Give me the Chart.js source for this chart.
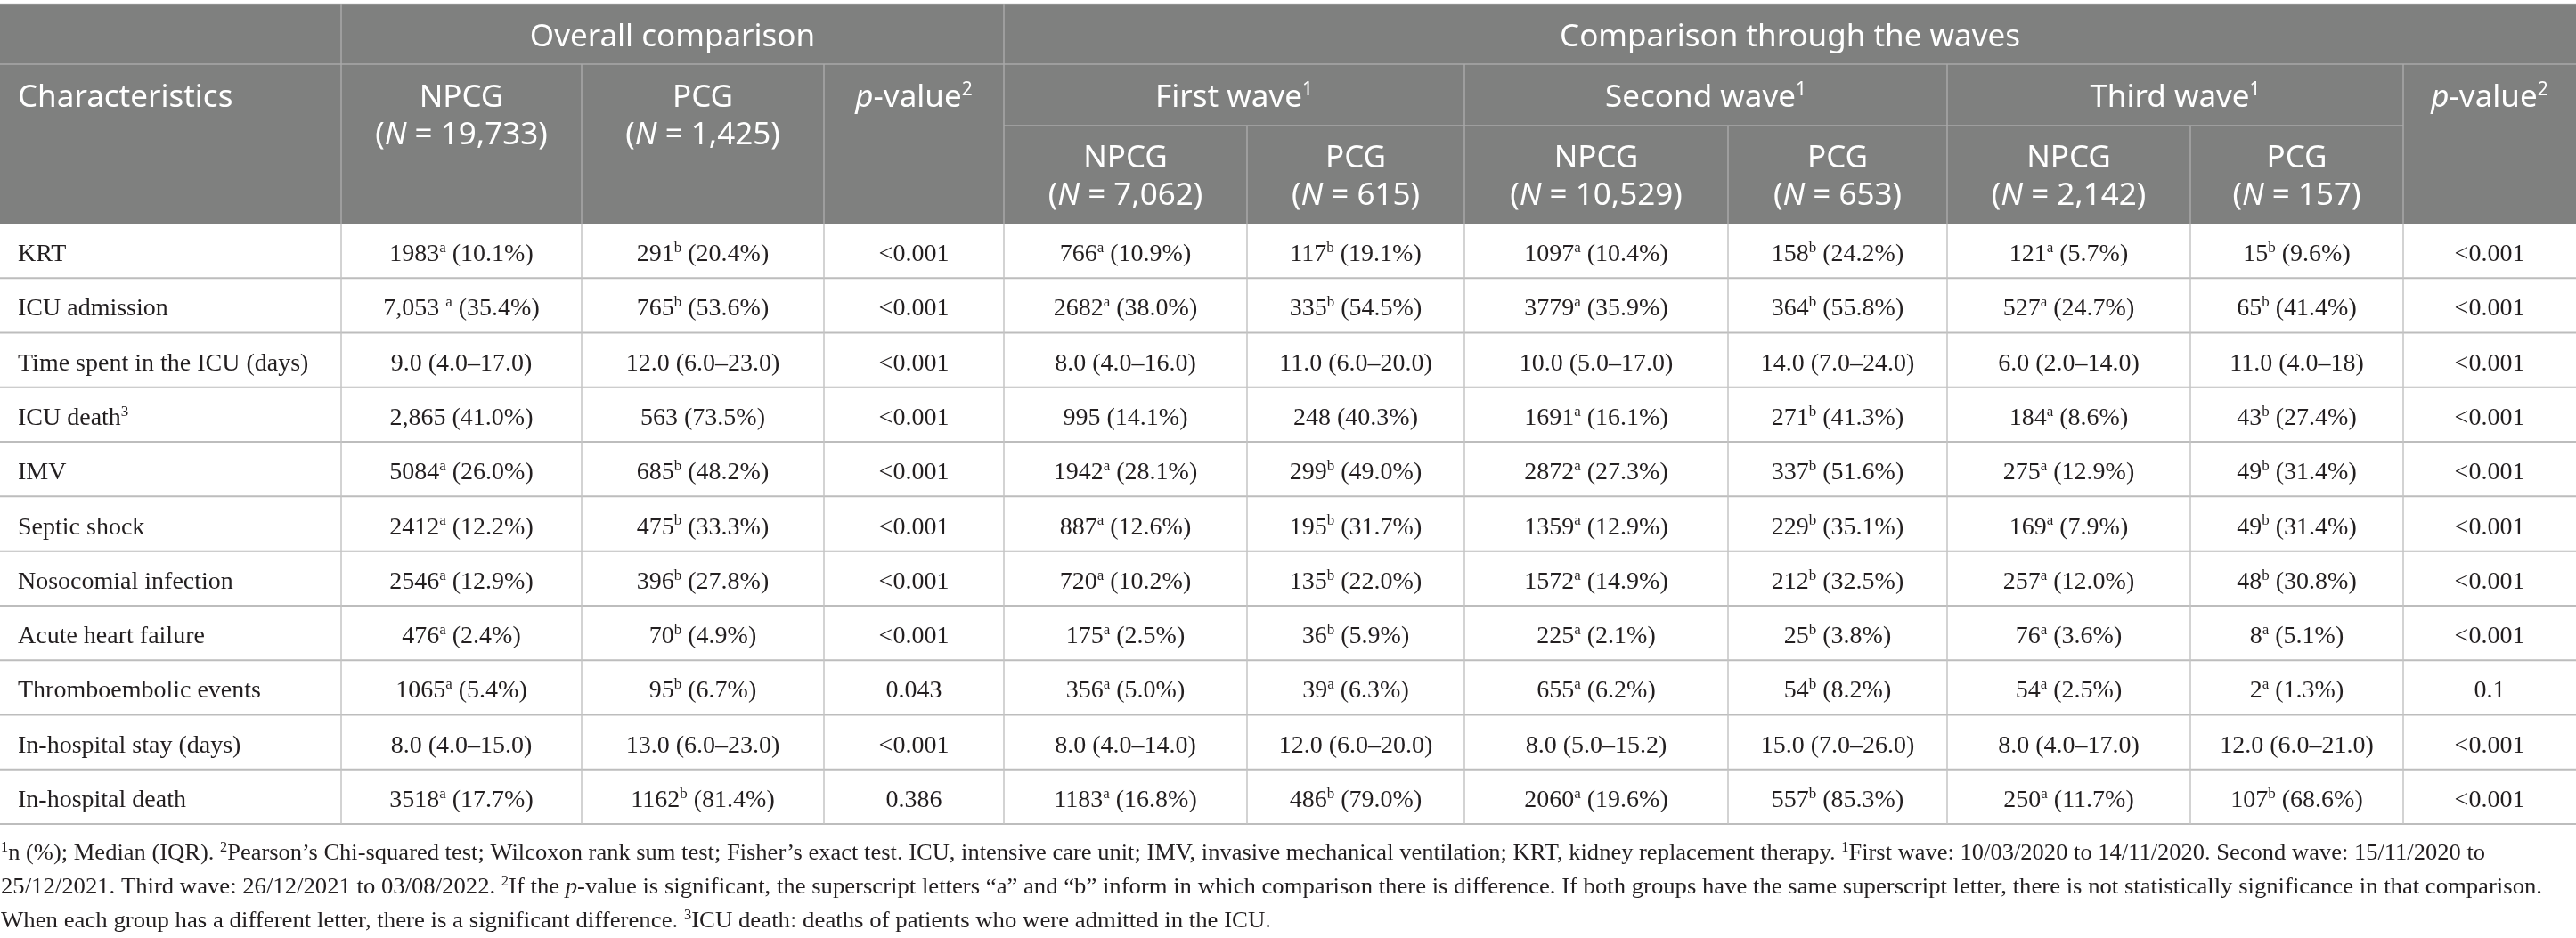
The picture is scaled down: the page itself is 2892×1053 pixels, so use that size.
<!DOCTYPE html>
<html>
<head>
    <meta charset="utf-8">
    <title>Outcomes by group and wave</title>
    <script src="https://cdn.jsdelivr.net/npm/chart.js@4"></script>
    <style>
        html, body {
            margin: 0;
            padding: 0;
            background: #ffffff;
            overflow: hidden;
        }
        #tableChart {
            display: block;
        }
    </style>
</head>
<body>
<canvas id="tableChart" width="2892" height="1053"></canvas>

<script>
    // ---- table content ----
    // markup: ^x = superscript character, _text_ = italic
    const characteristics = ['KRT', 'ICU admission', 'Time spent in the ICU (days)', 'ICU death^3', 'IMV', 'Septic shock',
        'Nosocomial infection', 'Acute heart failure', 'Thromboembolic events', 'In-hospital stay (days)', 'In-hospital death'];

    const overallNPCG = ['1983^a (10.1%)', '7,053 ^a (35.4%)', '9.0 (4.0–17.0)', '2,865 (41.0%)', '5084^a (26.0%)', '2412^a (12.2%)',
        '2546^a (12.9%)', '476^a (2.4%)', '1065^a (5.4%)', '8.0 (4.0–15.0)', '3518^a (17.7%)'];
    const overallPCG = ['291^b (20.4%)', '765^b (53.6%)', '12.0 (6.0–23.0)', '563 (73.5%)', '685^b (48.2%)', '475^b (33.3%)',
        '396^b (27.8%)', '70^b (4.9%)', '95^b (6.7%)', '13.0 (6.0–23.0)', '1162^b (81.4%)'];
    const overallP = ['<0.001', '<0.001', '<0.001', '<0.001', '<0.001', '<0.001', '<0.001', '<0.001', '0.043', '<0.001', '0.386'];

    const firstNPCG = ['766^a (10.9%)', '2682^a (38.0%)', '8.0 (4.0–16.0)', '995 (14.1%)', '1942^a (28.1%)', '887^a (12.6%)',
        '720^a (10.2%)', '175^a (2.5%)', '356^a (5.0%)', '8.0 (4.0–14.0)', '1183^a (16.8%)'];
    const firstPCG = ['117^b (19.1%)', '335^b (54.5%)', '11.0 (6.0–20.0)', '248 (40.3%)', '299^b (49.0%)', '195^b (31.7%)',
        '135^b (22.0%)', '36^b (5.9%)', '39^a (6.3%)', '12.0 (6.0–20.0)', '486^b (79.0%)'];
    const secondNPCG = ['1097^a (10.4%)', '3779^a (35.9%)', '10.0 (5.0–17.0)', '1691^a (16.1%)', '2872^a (27.3%)', '1359^a (12.9%)',
        '1572^a (14.9%)', '225^a (2.1%)', '655^a (6.2%)', '8.0 (5.0–15.2)', '2060^a (19.6%)'];
    const secondPCG = ['158^b (24.2%)', '364^b (55.8%)', '14.0 (7.0–24.0)', '271^b (41.3%)', '337^b (51.6%)', '229^b (35.1%)',
        '212^b (32.5%)', '25^b (3.8%)', '54^b (8.2%)', '15.0 (7.0–26.0)', '557^b (85.3%)'];
    const thirdNPCG = ['121^a (5.7%)', '527^a (24.7%)', '6.0 (2.0–14.0)', '184^a (8.6%)', '275^a (12.9%)', '169^a (7.9%)',
        '257^a (12.0%)', '76^a (3.6%)', '54^a (2.5%)', '8.0 (4.0–17.0)', '250^a (11.7%)'];
    const thirdPCG = ['15^b (9.6%)', '65^b (41.4%)', '11.0 (4.0–18)', '43^b (27.4%)', '49^b (31.4%)', '49^b (31.4%)',
        '48^b (30.8%)', '8^a (5.1%)', '2^a (1.3%)', '12.0 (6.0–21.0)', '107^b (68.6%)'];
    const wavesP = ['<0.001', '<0.001', '<0.001', '<0.001', '<0.001', '<0.001', '<0.001', '<0.001', '0.1', '<0.001', '<0.001'];

    const groupHeaders = ['Overall comparison', 'Comparison through the waves'];
    const waveHeaders = ['First wave^1', 'Second wave^1', 'Third wave^1'];
    const pHeader = '_p_-value^2';
    const overallSizes = ['(_N_ = 19,733)', '(_N_ = 1,425)'];
    const waveSizes = ['(_N_ = 7,062)', '(_N_ = 615)', '(_N_ = 10,529)', '(_N_ = 653)', '(_N_ = 2,142)', '(_N_ = 157)'];

    const footnotes = [
        '^1n (%); Median (IQR). ^2Pearson’s Chi-squared test; Wilcoxon rank sum test; Fisher’s exact test. ICU, intensive care unit; IMV, invasive mechanical ventilation; KRT, kidney replacement therapy. ^1First wave: 10/03/2020 to 14/11/2020. Second wave: 15/11/2020 to',
        '25/12/2021. Third wave: 26/12/2021 to 03/08/2022. ^2If the _p_-value is significant, the superscript letters “a” and “b” inform in which comparison there is difference. If both groups have the same superscript letter, there is not statistically significance in that comparison.',
        'When each group has a different letter, there is a significant difference. ^3ICU death: deaths of patients who were admitted in the ICU.'
    ];

    const dataColumns = [overallNPCG, overallPCG, overallP, firstNPCG, firstPCG, secondNPCG, secondPCG, thirdNPCG, thirdPCG, wavesP];

    // ---- layout (in scale units, 1 unit = 1 px of the picture) ----
    const W = 2892, H = 1053;
    const colEdges = [0, 383, 653, 925, 1127, 1400, 1644, 1940, 2186, 2459, 2698, 2892];
    const headTop = 4.5, head1 = 72, head2 = 141, headBottom = 251, tableBottom = 925;
    const rowH = (tableBottom - headBottom) / characteristics.length;
    const footBase = [965, 1003, 1041];
    const footEnd = [2790, 2854, 1427];

    const SANS = "'Noto Sans', 'Open Sans', sans-serif";
    const SERIF = "'Liberation Serif', 'DejaVu Serif', serif";
    const HEAD_BG = '#7f807f';
    const HEAD_LINE = '#a8a8a8';
    const BODY_LINE = '#bdbdbd';
    const TEXT = '#231f20';

    function parseRuns(str) {
        const runs = [];
        let italic = false, buf = '';
        const flush = () => { if (buf) runs.push({t: buf, italic: italic, sup: false}); buf = ''; };
        for (let i = 0; i < str.length; i++) {
            const ch = str[i];
            if (ch === '_') { flush(); italic = !italic; }
            else if (ch === '^') { flush(); runs.push({t: str[i + 1], italic: false, sup: true}); i++; }
            else buf += ch;
        }
        flush();
        return runs;
    }

    // draws marked-up text; align 'left' | 'center'; target = optional width to fit
    function drawRich(ctx, str, x, y, align, family, size, color, target) {
        const runs = parseRuns(str);
        const supSize = Math.round(size * 0.6);
        const fontOf = r => (r.italic ? 'italic ' : '') + (r.sup ? supSize : size) + 'px ' + family;
        let w = 0;
        runs.forEach(r => { ctx.font = fontOf(r); r.w = ctx.measureText(r.t).width; w += r.w; });
        let sx = 1;
        if (target) sx = target / w;
        ctx.save();
        ctx.translate(align === 'center' ? x - w * sx / 2 : x, y);
        ctx.scale(sx, 1);
        ctx.fillStyle = color;
        ctx.textBaseline = 'alphabetic';
        ctx.textAlign = 'left';
        let cx = 0;
        runs.forEach(r => {
            ctx.font = fontOf(r);
            ctx.fillText(r.t, cx, r.sup ? -size * 0.36 : 0);
            cx += r.w;
        });
        ctx.restore();
    }

    const tablePlugin = {
        id: 'tablePlugin',
        beforeDatasetsDraw(chart) {
            const ctx = chart.ctx;
            const xs = chart.scales.x, ys = chart.scales.y;
            const px = v => xs.getPixelForValue(v);
            const py = v => ys.getPixelForValue(v);
            const line = (x1, y1, x2, y2, color, lw) => {
                ctx.beginPath();
                ctx.strokeStyle = color;
                ctx.lineWidth = lw;
                ctx.moveTo(px(x1), py(y1));
                ctx.lineTo(px(x2), py(y2));
                ctx.stroke();
            };
            ctx.save();
            ctx.fillStyle = '#ffffff';
            ctx.fillRect(0, 0, chart.width, chart.height);

            // header block
            ctx.fillStyle = HEAD_BG;
            ctx.fillRect(px(0), py(headTop), px(W) - px(0), py(headBottom) - py(headTop));
            line(0, headTop, W, headTop, '#c6c6c6', 1.5);
            line(0, head1, W, head1, HEAD_LINE, 1.5);
            line(colEdges[4], head2, colEdges[10], head2, HEAD_LINE, 1.5);
            [[1, headTop], [2, head1], [3, head1], [4, headTop], [5, head2], [6, head1], [7, head2], [8, head1], [9, head2], [10, head1]]
                .forEach(([c, top]) => line(colEdges[c], top, colEdges[c], headBottom, HEAD_LINE, 1.5));

            // body grid
            for (let r = 1; r <= characteristics.length; r++) {
                const y = headBottom + r * rowH;
                line(0, y, W, y, BODY_LINE, 2);
            }
            for (let c = 1; c < colEdges.length - 1; c++) {
                line(colEdges[c], headBottom, colEdges[c], tableBottom, '#c4c4c4', 1.5);
            }

            // header text
            const mid = (a, b) => px((colEdges[a] + colEdges[b]) / 2);
            drawRich(ctx, groupHeaders[0], mid(1, 4), py(52), 'center', SANS, 35, '#ffffff');
            drawRich(ctx, groupHeaders[1], mid(4, 11), py(52), 'center', SANS, 35, '#ffffff');
            drawRich(ctx, 'Characteristics', px(20), py(120), 'left', SANS, 35, '#ffffff');
            drawRich(ctx, 'NPCG', mid(1, 2), py(120), 'center', SANS, 35, '#ffffff');
            drawRich(ctx, overallSizes[0], mid(1, 2), py(162), 'center', SANS, 35, '#ffffff');
            drawRich(ctx, 'PCG', mid(2, 3), py(120), 'center', SANS, 35, '#ffffff');
            drawRich(ctx, overallSizes[1], mid(2, 3), py(162), 'center', SANS, 35, '#ffffff');
            drawRich(ctx, pHeader, mid(3, 4), py(120), 'center', SANS, 35, '#ffffff');
            waveHeaders.forEach((t, i) => {
                drawRich(ctx, t, mid(4 + i * 2, 6 + i * 2), py(120), 'center', SANS, 35, '#ffffff');
            });
            drawRich(ctx, pHeader, mid(10, 11), py(120), 'center', SANS, 35, '#ffffff');
            waveSizes.forEach((t, i) => {
                drawRich(ctx, i % 2 === 0 ? 'NPCG' : 'PCG', mid(4 + i, 5 + i), py(188), 'center', SANS, 35, '#ffffff');
                drawRich(ctx, t, mid(4 + i, 5 + i), py(230), 'center', SANS, 35, '#ffffff');
            });

            // footnotes
            footnotes.forEach((t, i) => {
                drawRich(ctx, t, px(1), py(footBase[i]), 'left', SERIF, 26, TEXT, px(footEnd[i]) - px(1));
            });
            ctx.restore();
        },
        afterDatasetsDraw(chart) {
            const ctx = chart.ctx;
            chart.data.datasets.forEach((ds, di) => {
                const meta = chart.getDatasetMeta(di);
                meta.data.forEach((pt, i) => {
                    drawRich(ctx, ds.cellText[i], pt.x, pt.y + 11.5, ds.cellAlign, SERIF, 28, TEXT);
                });
            });
        }
    };

    const rowCenter = i => headBottom + (i + 0.5) * rowH;
    const datasets = [{
        label: 'Characteristics',
        cellText: characteristics,
        cellAlign: 'left',
        data: characteristics.map((_, i) => ({x: 20, y: rowCenter(i)}))
    }];
    dataColumns.forEach((col, c) => {
        datasets.push({
            label: 'col' + c,
            cellText: col,
            cellAlign: 'center',
            data: col.map((_, i) => ({x: (colEdges[c + 1] + colEdges[c + 2]) / 2, y: rowCenter(i)}))
        });
    });

    new Chart(document.getElementById('tableChart').getContext('2d'), {
        type: 'scatter',
        data: {datasets: datasets},
        options: {
            responsive: false,
            devicePixelRatio: 1,
            animation: false,
            layout: {padding: 0},
            elements: {point: {radius: 0, hoverRadius: 0}},
            plugins: {legend: {display: false}, tooltip: {enabled: false}},
            events: [],
            scales: {
                x: {type: 'linear', min: 0, max: W, display: false},
                y: {type: 'linear', min: 0, max: H, reverse: true, display: false}
            }
        },
        plugins: [tablePlugin]
    });
</script>
</body>
</html>
